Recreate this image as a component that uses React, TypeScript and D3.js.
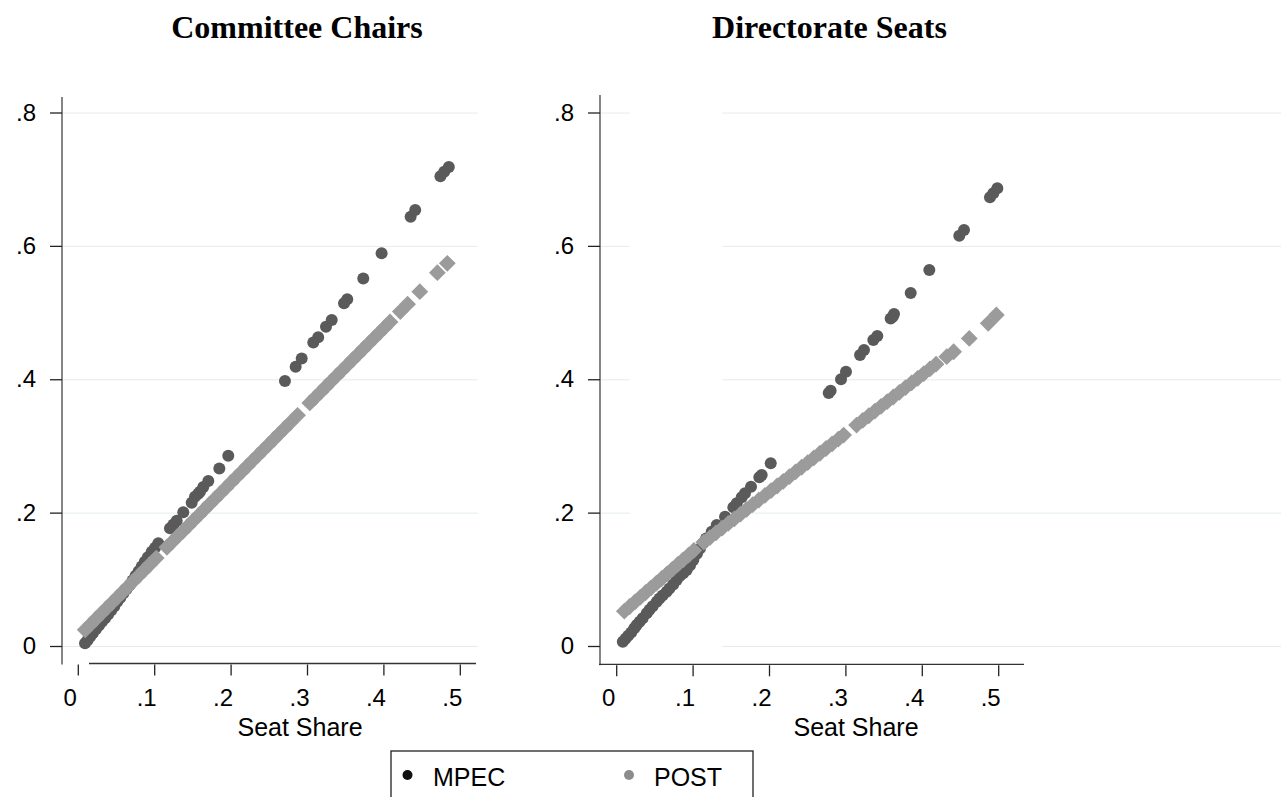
import React from "react";
import * as d3 from "d3";

const panelTitles = ["Committee Chairs", "Directorate Seats"];
const xTicks = [0, 0.1, 0.2, 0.3, 0.4, 0.5];
const xTickLabels = ["0", ".1", ".2", ".3", ".4", ".5"];
const yTicks = [0, 0.2, 0.4, 0.6, 0.8];
const yTickLabels = ["0", ".2", ".4", ".6", ".8"];
const xTitle = "Seat Share";
const legendLabels = ["MPEC", "POST"];

const chairsMpec: [number, number][] = [
  [0.0088, 0.0048], [0.012, 0.0095], [0.0155, 0.0147], [0.019, 0.02], [0.023, 0.026], [0.027, 0.0315],
  [0.031, 0.037], [0.035, 0.0425], [0.039, 0.048], [0.043, 0.054], [0.047, 0.06], [0.051, 0.067],
  [0.055, 0.073], [0.059, 0.08], [0.063, 0.086], [0.067, 0.092], [0.071, 0.099], [0.075, 0.106],
  [0.079, 0.113], [0.083, 0.12], [0.087, 0.127], [0.091, 0.134], [0.0961, 0.1421], [0.1005, 0.148],
  [0.1047, 0.1547], [0.12, 0.1772], [0.1245, 0.183], [0.1288, 0.1885], [0.1374, 0.2012], [0.1484, 0.2156],
  [0.1527, 0.2246], [0.157, 0.229], [0.1593, 0.2321], [0.1636, 0.239], [0.1702, 0.248], [0.1846, 0.267],
  [0.1963, 0.2861], [0.2705, 0.398], [0.2845, 0.4195], [0.2924, 0.432], [0.3076, 0.456], [0.314, 0.4636],
  [0.3242, 0.4795], [0.3317, 0.4896], [0.3478, 0.5146], [0.352, 0.5206], [0.373, 0.552], [0.397, 0.5896],
  [0.435, 0.6445], [0.441, 0.6545], [0.474, 0.705], [0.479, 0.712], [0.485, 0.719],
];

const chairsPost: [number, number][] = [
  [0.009, 0.025], [0.016, 0.0331], [0.023, 0.0412], [0.03, 0.0493], [0.037, 0.0574], [0.044, 0.0655],
  [0.051, 0.0736], [0.058, 0.0817], [0.065, 0.0898], [0.072, 0.0979], [0.079, 0.106], [0.086, 0.1141],
  [0.093, 0.1222], [0.102, 0.1326], [0.116, 0.1488], [0.123, 0.1569], [0.13, 0.165], [0.137, 0.173],
  [0.144, 0.1811], [0.151, 0.1892], [0.158, 0.1973], [0.165, 0.2054], [0.172, 0.2135], [0.179, 0.2216],
  [0.186, 0.2297], [0.193, 0.2378], [0.2, 0.246], [0.207, 0.2541], [0.214, 0.2622], [0.221, 0.2703],
  [0.228, 0.2784], [0.235, 0.2865], [0.242, 0.2946], [0.249, 0.3027], [0.256, 0.3108], [0.263, 0.3189],
  [0.27, 0.327], [0.277, 0.3351], [0.287, 0.3466], [0.303, 0.3652], [0.31, 0.3733], [0.317, 0.3814],
  [0.324, 0.3895], [0.331, 0.3976], [0.338, 0.4057], [0.345, 0.4138], [0.352, 0.4219], [0.359, 0.43],
  [0.366, 0.438], [0.373, 0.4461], [0.38, 0.4542], [0.387, 0.4623], [0.394, 0.4704], [0.401, 0.4785],
  [0.408, 0.4866], [0.4215, 0.5023], [0.431, 0.5133], [0.447, 0.532], [0.47, 0.5605], [0.483, 0.5746],
];

const seatsMpec: [number, number][] = [
  [0.008, 0.0072], [0.0115, 0.0115], [0.015, 0.016], [0.019, 0.021], [0.023, 0.0275], [0.0262, 0.0322],
  [0.03, 0.037], [0.034, 0.0425], [0.0393, 0.0498], [0.043, 0.055], [0.047, 0.0605], [0.0524, 0.0672],
  [0.056, 0.072], [0.06, 0.0765], [0.0654, 0.0822], [0.069, 0.087], [0.074, 0.093], [0.0785, 0.0997],
  [0.083, 0.106], [0.087, 0.11], [0.0916, 0.1147], [0.096, 0.122], [0.1003, 0.1297], [0.105, 0.139],
  [0.109, 0.147], [0.113, 0.155], [0.117, 0.162], [0.1243, 0.1721], [0.1309, 0.1822], [0.1418, 0.1946],
  [0.1527, 0.2087], [0.1571, 0.2147], [0.1636, 0.2237], [0.1679, 0.2297], [0.1758, 0.2396], [0.1867, 0.2537],
  [0.1898, 0.2572], [0.2016, 0.2747], [0.2775, 0.38], [0.28, 0.3835], [0.2936, 0.4007], [0.3001, 0.412],
  [0.3185, 0.437], [0.3237, 0.4446], [0.3359, 0.4596], [0.3411, 0.4656], [0.3586, 0.492], [0.3613, 0.4945],
  [0.363, 0.4986], [0.3848, 0.53], [0.4092, 0.5646], [0.4484, 0.616], [0.4546, 0.6245], [0.4886, 0.6736],
  [0.4929, 0.6796], [0.4982, 0.687],
];

const seatsPost: [number, number][] = [
  [0.01, 0.053], [0.017, 0.06], [0.024, 0.067], [0.031, 0.074], [0.038, 0.081], [0.045, 0.088],
  [0.052, 0.095], [0.059, 0.102], [0.066, 0.109], [0.073, 0.116], [0.08, 0.123], [0.087, 0.13],
  [0.094, 0.137], [0.101, 0.144], [0.114, 0.1564], [0.122, 0.1634], [0.13, 0.1704], [0.138, 0.1775],
  [0.146, 0.1845], [0.154, 0.1915], [0.162, 0.1985], [0.17, 0.2056], [0.178, 0.2126], [0.186, 0.2196],
  [0.194, 0.2266], [0.202, 0.2337], [0.21, 0.2407], [0.218, 0.2477], [0.226, 0.2547], [0.234, 0.2618],
  [0.242, 0.2688], [0.25, 0.2758], [0.258, 0.2828], [0.266, 0.2898], [0.274, 0.2969], [0.282, 0.3039],
  [0.29, 0.3109], [0.297, 0.3171], [0.314, 0.332], [0.322, 0.339], [0.33, 0.346], [0.338, 0.3531],
  [0.346, 0.3601], [0.354, 0.3671], [0.362, 0.3741], [0.37, 0.3812], [0.378, 0.3882], [0.386, 0.3952],
  [0.394, 0.4022], [0.402, 0.4093], [0.41, 0.4163], [0.418, 0.4233], [0.432, 0.4346], [0.441, 0.442],
  [0.4615, 0.462], [0.4863, 0.4846], [0.4969, 0.4971],
];

const W = 1281;
const H = 797;
const SANS = "'Liberation Sans', Arial, sans-serif";
const SERIF = "'Liberation Serif', 'Times New Roman', serif";
const MPEC_COLOR = "#5a5a5a";
const POST_COLOR = "#9b9b9b";
const GRID = "#e4ecec";

const y = d3.scaleLinear().domain([0, 0.8]).range([646.5, 113]);

type PanelCfg = {
  title: string;
  titleX: number;
  axisTitleX: number;
  x: d3.ScaleLinear<number, number>;
  yAxisX: number;
  yAxisTop: number;
  xAxisY: number;
  xAxisStart: number;
  xAxisEnd: number;
  gridSegs: (v: number) => [number, number][];
  mpec: [number, number][];
  post: [number, number][];
  labelRight: number;
};

const diamond = (h: number) => `M0,${-h}L${h},0L0,${h}L${-h},0Z`;

function Panel({ cfg }: { cfg: PanelCfg }) {
  const { x } = cfg;
  return (
    <g>
      <text x={cfg.titleX} y={38} textAnchor="middle" fontFamily={SERIF} fontWeight="bold" fontSize={32} fill="#000">
        {cfg.title}
      </text>
      {yTicks.map((v) =>
        cfg.gridSegs(v).map(([a, b], i) => (
          <line key={`g${v}-${i}`} x1={a} x2={b} y1={y(v)} y2={y(v)} stroke={GRID} strokeWidth={1} />
        ))
      )}
      <line x1={cfg.yAxisX} x2={cfg.yAxisX} y1={cfg.yAxisTop} y2={cfg.xAxisY + 1} stroke="#444" strokeWidth={1.3} />
      {yTicks.map((v, i) => (
        <g key={`yt${v}`}>
          <line x1={cfg.yAxisX - 12} x2={cfg.yAxisX} y1={y(v)} y2={y(v)} stroke="#222" strokeWidth={1.3} />
          <text x={cfg.labelRight} y={y(v) + 7.5} textAnchor="end" fontFamily={SANS} fontSize={24} fill="#000">
            {yTickLabels[i]}
          </text>
        </g>
      ))}
      <line x1={cfg.xAxisStart} x2={cfg.xAxisEnd} y1={cfg.xAxisY} y2={cfg.xAxisY} stroke="#333" strokeWidth={1.3} />
      {xTicks.map((v, i) => (
        <g key={`xt${v}`}>
          <line x1={x(v)} x2={x(v)} y1={cfg.xAxisY + 1} y2={cfg.xAxisY + 12} stroke="#222" strokeWidth={1.3} />
          <text x={x(v) - 8} y={706} textAnchor="middle" fontFamily={SANS} fontSize={24} fill="#000">
            {xTickLabels[i]}
          </text>
        </g>
      ))}
      <text x={cfg.axisTitleX} y={736} textAnchor="middle" fontFamily={SANS} fontSize={25} fill="#000">
        {xTitle}
      </text>
      {cfg.mpec.map(([a, b], i) => (
        <circle key={`m${i}`} cx={x(a)} cy={y(b)} r={6} fill={MPEC_COLOR} />
      ))}
      {cfg.post.map(([a, b], i) => (
        <path key={`p${i}`} d={diamond(8.4)} transform={`translate(${x(a)},${y(b)})`} fill={POST_COLOR} />
      ))}
    </g>
  );
}

export default function App() {
  const xL = d3.scaleLinear().domain([0, 0.5]).range([78.3, 460.3]);
  const xR = d3.scaleLinear().domain([0, 0.5]).range([616.7, 998.7]);
  const left: PanelCfg = {
    title: panelTitles[0],
    titleX: 297,
    axisTitleX: 300,
    x: xL,
    yAxisX: 62,
    yAxisTop: 97,
    xAxisY: 663.5,
    xAxisStart: 89,
    xAxisEnd: 476,
    gridSegs: () => [[62, 478]],
    mpec: chairsMpec,
    post: chairsPost,
    labelRight: 36,
  };
  const right: PanelCfg = {
    title: panelTitles[1],
    titleX: 829.5,
    axisTitleX: 856,
    x: xR,
    yAxisX: 600,
    yAxisTop: 95,
    xAxisY: 664.3,
    xAxisStart: 599,
    xAxisEnd: 1024,
    gridSegs: (v) => (v === 0 ? [[722, 1281]] : [[600, 630], [722, 1281]]),
    mpec: seatsMpec,
    post: seatsPost,
    labelRight: 574,
  };
  return (
    <svg
      width={W}
      height={H}
      viewBox={`0 0 ${W} ${H}`}
      style={{ position: "absolute", left: 0, top: 0, background: "#fff", display: "block" }}
    >
      <rect x={0} y={0} width={W} height={H} fill="#fff" />
      <Panel cfg={left} />
      <Panel cfg={right} />
      <g>
        <rect x={391} y={751} width={362} height={80} fill="#fff" stroke="#222" strokeWidth={1.3} />
        <circle cx={407.5} cy={775} r={5} fill="#111" />
        <text x={433} y={785.5} fontFamily={SANS} fontSize={25} fill="#000">
          {legendLabels[0]}
        </text>
        <circle cx={629} cy={775} r={5} fill="#8c8c8c" />
        <text x={654} y={785.5} fontFamily={SANS} fontSize={25} fill="#000">
          {legendLabels[1]}
        </text>
      </g>
    </svg>
  );
}
